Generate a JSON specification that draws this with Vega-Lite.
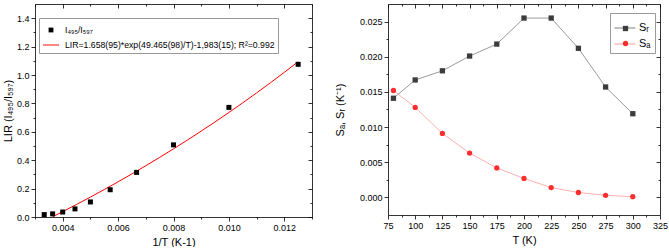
{
  "$schema": "https://vega.github.io/schema/vega-lite/v6.json",
  "padding": {"left": 2, "top": 0, "right": 0, "bottom": 0},
  "config": {
    "font": "Liberation Sans",
    "view": {"stroke": null},
    "axis": {
      "labelFont": "Liberation Sans", "labelFontSize": 9, "labelColor": "#000000",
      "titleFont": "Liberation Sans", "titleFontSize": 11, "titleFontWeight": "normal", "titleColor": "#000000",
      "domainColor": "#000000", "tickColor": "#000000", "domainWidth": 0.8, "tickWidth": 0.8,
      "grid": false, "labelOverlap": false, "labelFlush": false
    },
    "legend": {"labelFont": "Liberation Sans", "labelColor": "#000000"}
  },
  "datasets": {
    "lir": [
      {"invT": 0.003333, "lir": 0.017, "series": "I₄₉₅/I₅₉₇"},
      {"invT": 0.003636, "lir": 0.022, "series": "I₄₉₅/I₅₉₇"},
      {"invT": 0.004, "lir": 0.035, "series": "I₄₉₅/I₅₉₇"},
      {"invT": 0.004444, "lir": 0.057, "series": "I₄₉₅/I₅₉₇"},
      {"invT": 0.005, "lir": 0.106, "series": "I₄₉₅/I₅₉₇"},
      {"invT": 0.005714, "lir": 0.192, "series": "I₄₉₅/I₅₉₇"},
      {"invT": 0.006667, "lir": 0.314, "series": "I₄₉₅/I₅₉₇"},
      {"invT": 0.008, "lir": 0.508, "series": "I₄₉₅/I₅₉₇"},
      {"invT": 0.01, "lir": 0.772, "series": "I₄₉₅/I₅₉₇"},
      {"invT": 0.0125, "lir": 1.075, "series": "I₄₉₅/I₅₉₇"}
    ],
    "fit": [
      {"invT": 0.00364, "lir": 0.002},
      {"invT": 0.004, "lir": 0.0378},
      {"invT": 0.0045, "lir": 0.0884},
      {"invT": 0.005, "lir": 0.1402},
      {"invT": 0.006, "lir": 0.2479},
      {"invT": 0.007, "lir": 0.361},
      {"invT": 0.008, "lir": 0.4799},
      {"invT": 0.009, "lir": 0.6048},
      {"invT": 0.01, "lir": 0.736},
      {"invT": 0.011, "lir": 0.8739},
      {"invT": 0.012, "lir": 1.0187},
      {"invT": 0.0125, "lir": 1.0939}
    ],
    "sens": [
      {"T": 80, "S": 0.0141, "series": "Sᵣ"},
      {"T": 100, "S": 0.0167, "series": "Sᵣ"},
      {"T": 125, "S": 0.018, "series": "Sᵣ"},
      {"T": 150, "S": 0.0201, "series": "Sᵣ"},
      {"T": 175, "S": 0.0218, "series": "Sᵣ"},
      {"T": 200, "S": 0.0255, "series": "Sᵣ"},
      {"T": 225, "S": 0.0255, "series": "Sᵣ"},
      {"T": 250, "S": 0.0212, "series": "Sᵣ"},
      {"T": 275, "S": 0.0157, "series": "Sᵣ"},
      {"T": 300, "S": 0.0119, "series": "Sᵣ"},
      {"T": 80, "S": 0.0152, "series": "Sₐ"},
      {"T": 100, "S": 0.0128, "series": "Sₐ"},
      {"T": 125, "S": 0.0091, "series": "Sₐ"},
      {"T": 150, "S": 0.0063, "series": "Sₐ"},
      {"T": 175, "S": 0.0042, "series": "Sₐ"},
      {"T": 200, "S": 0.0027, "series": "Sₐ"},
      {"T": 225, "S": 0.0014, "series": "Sₐ"},
      {"T": 250, "S": 0.0007, "series": "Sₐ"},
      {"T": 275, "S": 0.0003, "series": "Sₐ"},
      {"T": 300, "S": 0.0001, "series": "Sₐ"}
    ]
  },
  "spacing": 21,
  "resolve": {
    "scale": {"fill": "independent", "shape": "independent", "stroke": "independent", "x": "independent", "y": "independent"},
    "legend": {"fill": "independent", "shape": "independent", "stroke": "independent"}
  },
  "hconcat": [
    {
      "width": 277,
      "height": 213,
      "layer": [
        {
          "data": {"name": "fit"},
          "mark": {"type": "line", "color": "#ff0000", "strokeWidth": 1, "interpolate": "monotone"},
          "encoding": {
            "x": {
              "field": "invT", "type": "quantitative",
              "scale": {"domain": [0.003, 0.013], "nice": false, "zero": false},
              "axis": {
                "orient": "bottom", "title": "1/T (K-1)",
                "values": [0.003, 0.004, 0.005, 0.006, 0.007, 0.008, 0.009, 0.01, 0.011, 0.012, 0.013],
                "labelExpr": "round(datum.value*1000)%2==0 ? format(datum.value,'.3f') : ''",
                "tickSize": {"condition": {"test": "round(datum.value*1000)%2==0", "value": 4}, "value": 2},
                "labelPadding": 2, "titlePadding": 4
              }
            },
            "y": {
              "field": "lir", "type": "quantitative",
              "scale": {"domain": [0, 1.5], "nice": false, "zero": false},
              "axis": {
                "orient": "left", "title": "LIR (I₄₉₅/I₅₉₇)",
                "values": [0, 0.1, 0.2, 0.3, 0.4, 0.5, 0.6, 0.7, 0.8, 0.9, 1.0, 1.1, 1.2, 1.3, 1.4],
                "labelExpr": "round(datum.value*10)%2==0 ? format(datum.value,'.1f') : ''",
                "tickSize": {"condition": {"test": "round(datum.value*10)%2==0", "value": 4}, "value": 2},
                "labelPadding": 2, "titlePadding": 3
              }
            }
          }
        },
        {
          "data": {"name": "lir"},
          "mark": {"type": "point", "filled": true, "size": 278, "opacity": 1},
          "encoding": {
            "x": {
              "field": "invT", "type": "quantitative",
              "axis": {
                "orient": "top", "title": null, "labels": false,
                "values": [0.003, 0.004, 0.005, 0.006, 0.007, 0.008, 0.009, 0.01, 0.011, 0.012, 0.013],
                "tickSize": {"condition": {"test": "round(datum.value*1000)%2==0", "value": -4}, "value": -2}
              }
            },
            "y": {
              "field": "lir", "type": "quantitative",
              "axis": {
                "orient": "right", "title": null, "labels": false,
                "values": [0, 0.1, 0.2, 0.3, 0.4, 0.5, 0.6, 0.7, 0.8, 0.9, 1.0, 1.1, 1.2, 1.3, 1.4],
                "tickSize": {"condition": {"test": "round(datum.value*10)%2==0", "value": -4}, "value": -2}
              }
            },
            "fill": {
              "field": "series", "type": "nominal",
              "scale": {
                "domain": ["I₄₉₅/I₅₉₇", "LIR=1.658(95)*exp(49.465(98)/T)-1,983(15); R²=0.992"],
                "range": ["#000000", "#ff0000"]
              },
              "legend": {
                "title": null, "orient": "none", "legendX": 4, "legendY": 14,
                "labelFontSize": 8.7, "labelLimit": 400, "labelOffset": 5,
                "symbolSize": 256, "rowPadding": 0, "padding": 3,
                "strokeColor": "#9a9a9a", "fillColor": "#ffffff"
              }
            },
            "shape": {
              "field": "series", "type": "nominal",
              "scale": {
                "domain": ["I₄₉₅/I₅₉₇", "LIR=1.658(95)*exp(49.465(98)/T)-1,983(15); R²=0.992"],
                "range": ["M-0.3,-0.3H0.3V0.3H-0.3Z", "M-1,-0.06H1V0.06H-1Z"]
              },
              "legend": {
                "title": null, "orient": "none", "legendX": 4, "legendY": 14,
                "labelFontSize": 8.7, "labelLimit": 400, "labelOffset": 5,
                "symbolSize": 256, "rowPadding": 0, "padding": 3,
                "strokeColor": "#9a9a9a", "fillColor": "#ffffff"
              }
            }
          }
        }
      ],
      "resolve": {"axis": {"x": "independent", "y": "independent"}}
    },
    {
      "width": 272,
      "height": 211,
      "title": {"text": " ", "fontSize": 2, "offset": 1},
      "data": {"name": "sens"},
      "layer": [
        {
          "mark": {"type": "line", "strokeWidth": 0.8},
          "encoding": {
            "x": {
              "field": "T", "type": "quantitative",
              "scale": {"domain": [75, 325], "nice": false, "zero": false},
              "axis": {
                "orient": "bottom", "title": "T (K)",
                "values": [75, 87.5, 100, 112.5, 125, 137.5, 150, 162.5, 175, 187.5, 200, 212.5, 225, 237.5, 250, 262.5, 275, 287.5, 300, 312.5, 325],
                "labelExpr": "datum.value%25==0 ? format(datum.value,'d') : ''",
                "tickSize": {"condition": {"test": "datum.value%25==0", "value": 4}, "value": 2},
                "labelPadding": 2, "titlePadding": 4
              }
            },
            "y": {
              "field": "S", "type": "quantitative",
              "scale": {"domain": [-0.0025, 0.0275], "nice": false, "zero": false},
              "axis": {
                "orient": "left", "title": "Sₐ, Sᵣ (K⁻¹)",
                "values": [0, 0.0025, 0.005, 0.0075, 0.01, 0.0125, 0.015, 0.0175, 0.02, 0.0225, 0.025],
                "labelExpr": "round(datum.value*400)%2==0 ? format(datum.value,'.3f') : ''",
                "tickSize": {"condition": {"test": "round(datum.value*400)%2==0", "value": 4}, "value": 2},
                "labelPadding": 2, "titlePadding": 14
              }
            },
            "stroke": {
              "field": "series", "type": "nominal",
              "scale": {"range": ["#808080", "#ff9a9a"]},
              "legend": {
                "title": null, "orient": "none", "legendX": 222, "legendY": 9,
                "labelFontSize": 11, "labelOffset": 3, "symbolType": "stroke",
                "symbolSize": 441, "symbolStrokeWidth": 1, "rowPadding": 0, "padding": 4,
                "strokeColor": "#9a9a9a", "fillColor": "#ffffff"
              }
            }
          }
        },
        {
          "mark": {"type": "point", "filled": true, "size": 28, "opacity": 1},
          "encoding": {
            "x": {
              "field": "T", "type": "quantitative",
              "axis": {
                "orient": "top", "title": null, "labels": false,
                "values": [75, 87.5, 100, 112.5, 125, 137.5, 150, 162.5, 175, 187.5, 200, 212.5, 225, 237.5, 250, 262.5, 275, 287.5, 300, 312.5, 325],
                "tickSize": {"condition": {"test": "datum.value%25==0", "value": -4}, "value": -2}
              }
            },
            "y": {
              "field": "S", "type": "quantitative",
              "axis": {
                "orient": "right", "title": null, "labels": false,
                "values": [0, 0.0025, 0.005, 0.0075, 0.01, 0.0125, 0.015, 0.0175, 0.02, 0.0225, 0.025],
                "tickSize": {"condition": {"test": "round(datum.value*400)%2==0", "value": -4}, "value": -2}
              }
            },
            "fill": {
              "field": "series", "type": "nominal",
              "scale": {"domain": ["Sᵣ", "Sₐ"], "range": ["#3c3c3c", "#ff2e2e"]},
              "legend": {
                "title": null, "orient": "none", "legendX": 230, "legendY": 17,
                "labelFontSize": 1, "labelExpr": "''", "labelOffset": 0,
                "symbolSize": 28, "rowPadding": 2, "padding": 4
              }
            },
            "shape": {
              "field": "series", "type": "nominal",
              "scale": {"domain": ["Sᵣ", "Sₐ"], "range": ["square", "circle"]},
              "legend": {
                "title": null, "orient": "none", "legendX": 230, "legendY": 17,
                "labelFontSize": 1, "labelExpr": "''", "labelOffset": 0,
                "symbolSize": 28, "rowPadding": 2, "padding": 4
              }
            }
          }
        }
      ],
      "resolve": {"axis": {"x": "independent", "y": "independent"}}
    }
  ]
}
